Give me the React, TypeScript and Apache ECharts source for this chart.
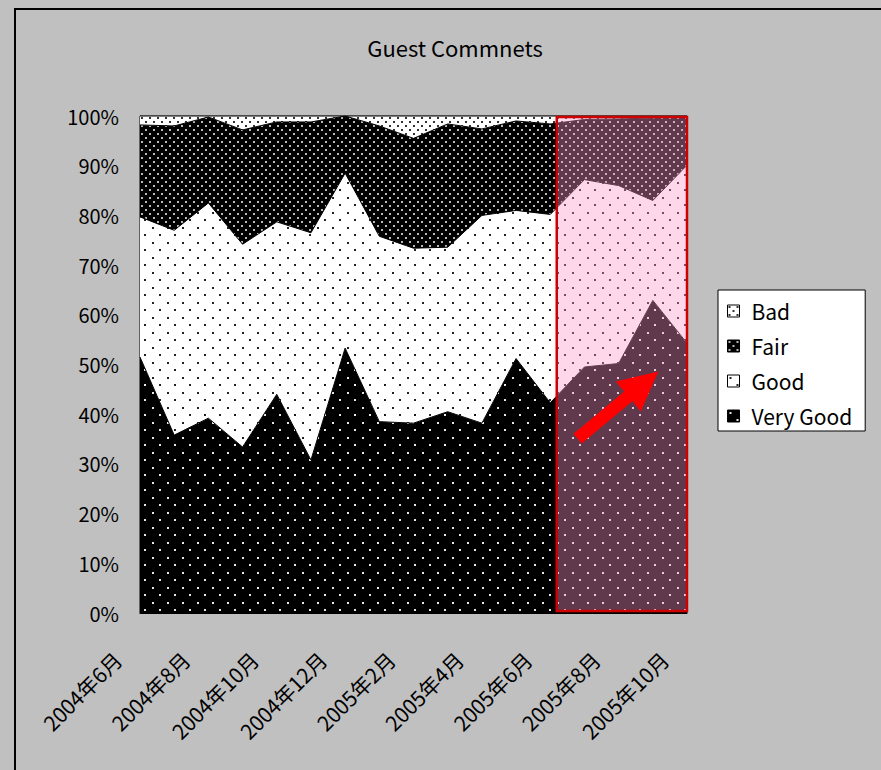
import React, { useEffect, useRef } from 'react';
import * as echarts from 'echarts';

const categories = [
  '2004年6月', '2004年7月', '2004年8月', '2004年9月', '2004年10月', '2004年11月',
  '2004年12月', '2005年1月', '2005年2月', '2005年3月', '2005年4月', '2005年5月',
  '2005年6月', '2005年7月', '2005年8月', '2005年9月', '2005年10月',
];
const veryGood = [51.5, 35.8, 39.2, 33.4, 44.0, 30.8, 53.3, 38.5, 38.2, 40.5, 38.2, 51.2, 42.3, 49.5, 50.2, 62.9, 54.3];
const good = [28.2, 41.2, 43.3, 40.8, 34.7, 45.7, 35.2, 37.3, 35.2, 33.1, 41.8, 29.8, 37.9, 37.7, 35.8, 20.1, 35.8];
const fair = [18.5, 21.0, 17.3, 23.0, 20.1, 22.3, 11.5, 22.2, 22.1, 24.8, 17.4, 18.0, 18.2, 12.1, 13.4, 16.6, 9.7];
const bad = [1.8, 2.0, 0.2, 2.8, 1.2, 1.2, 0.0, 2.0, 4.5, 1.6, 2.6, 1.0, 1.6, 0.7, 0.6, 0.4, 0.2];
const legendOrder = ['Bad', 'Fair', 'Good', 'Very Good'];

const FONT = "'Noto Sans CJK JP', 'Noto Sans', sans-serif";

function makePattern(bg: string, dot: string, size: number, dots: number[][], dotSize: number) {
  const c = document.createElement('canvas');
  c.width = size;
  c.height = size;
  const ctx = c.getContext('2d')!;
  ctx.fillStyle = bg;
  ctx.fillRect(0, 0, size, size);
  ctx.fillStyle = dot;
  dots.forEach(([x, y]) => ctx.fillRect(x, y, dotSize, dotSize));
  return { image: c, repeat: 'repeat', imageWidth: size, imageHeight: size } as any;
}

export default function App() {
  const ref = useRef<HTMLDivElement>(null);
  useEffect(() => {
    document.body.style.margin = '0';
    const chart = echarts.init(ref.current!, undefined, { renderer: 'svg' });
    const patVG = makePattern('#000', '#e8e8e8', 15, [[2, 2], [9, 9]], 2);
    const patGood = makePattern('#fff', '#222', 15, [[2, 2], [9, 9]], 2);
    const patFair = makePattern('#000', '#b8b8b8', 8, [[1, 1], [5, 5]], 2);
    const patBad = makePattern('#fff', '#333', 8, [[1, 1], [5, 5]], 2);
    const pats: Record<string, any> = { 'Very Good': patVG, Good: patGood, Fair: patFair, Bad: patBad };
    const seriesDefs: [string, number[]][] = [
      ['Very Good', veryGood],
      ['Good', good],
      ['Fair', fair],
      ['Bad', bad],
    ];
    chart.setOption({
      animation: false,
      backgroundColor: '#C0C0C0',
      grid: {
        left: 140, top: 116, width: 547, height: 497, show: true,
        backgroundColor: '#fff', borderColor: '#000', borderWidth: 1,
      },
      legend: {
        orient: 'vertical', left: 718, top: 290,
        backgroundColor: '#fff', borderColor: '#000', borderWidth: 1,
        padding: [10, 13, 4, 9], itemGap: 13, itemWidth: 12, itemHeight: 12,
        icon: 'rect',
        textStyle: { fontSize: 21, color: '#000', fontFamily: FONT, lineHeight: 22, padding: [0, 0, 0, 7] },
        data: legendOrder.map((n) => ({
          name: n,
          itemStyle: { color: pats[n], borderColor: '#000', borderWidth: 1 },
        })),
      },
      xAxis: {
        type: 'category', data: categories, boundaryGap: false,
        axisLine: { lineStyle: { color: '#000', width: 1 } },
        axisTick: { show: false },
        axisLabel: {
          interval: 1, rotate: 45, margin: 20, fontSize: 21, color: '#000', fontFamily: FONT,
          padding: [0, 32, 0, 0],
        },
        splitLine: { show: false },
      },
      yAxis: {
        type: 'value', min: 0, max: 100, interval: 10,
        axisLine: { show: true, lineStyle: { color: '#000', width: 1 } },
        axisTick: { show: true, inside: true, length: 6, lineStyle: { color: '#000' } },
        axisLabel: { formatter: '{value}%', fontSize: 20, margin: 21, color: '#000', fontFamily: FONT },
        splitLine: { show: false },
      },
      series: seriesDefs.map(([name, data]) => ({
        name, type: 'line', stack: 'total', data, symbol: 'none',
        lineStyle: { width: 1, color: '#000' },
        areaStyle: { color: pats[name], opacity: 1 },
        itemStyle: { color: name === 'Good' || name === 'Bad' ? '#fff' : '#000' },
      })),
    });

    const pt = (xi: number, v: number) => {
      const a = chart.convertToPixel({ gridIndex: 0 }, [Math.floor(xi), v]) as number[];
      const b = chart.convertToPixel({ gridIndex: 0 }, [Math.min(Math.floor(xi) + 1, categories.length - 1), v]) as number[];
      const f = xi - Math.floor(xi);
      return [a[0] + (b[0] - a[0]) * f, a[1]];
    };
    const tl = pt(12.19, 100);
    const br = pt(16, 0);
    const tail = pt(12.8, 35.1);
    const tip = pt(15.16, 48.6);
    const dx = tip[0] - tail[0];
    const dy = tip[1] - tail[1];
    const len = Math.sqrt(dx * dx + dy * dy);
    const ux = dx / len, uy = dy / len;
    const nx = -uy, ny = ux;
    const hw = 6.4, headLen = 39, headHw = 19.5;
    const base = [tip[0] - ux * headLen, tip[1] - uy * headLen];
    const arrow = [
      [tail[0] + nx * hw, tail[1] + ny * hw],
      [base[0] + nx * hw, base[1] + ny * hw],
      [base[0] + nx * headHw, base[1] + ny * headHw],
      [tip[0], tip[1]],
      [base[0] - nx * headHw, base[1] - ny * headHw],
      [base[0] - nx * hw, base[1] - ny * hw],
      [tail[0] - nx * hw, tail[1] - ny * hw],
    ];

    chart.setOption({
      graphic: [
        {
          type: 'rect', z: 100, silent: true,
          shape: { x: 15, y: 9, width: 900, height: 800 },
          style: { fill: 'none', stroke: '#000', lineWidth: 2 },
        },
        {
          type: 'text', z: 100, x: 455, y: 47,
          style: {
            text: 'Guest Commnets', fill: '#000', fontSize: 22, fontFamily: FONT,
            textAlign: 'center', verticalAlign: 'middle', textVerticalAlign: 'middle',
          },
        },
        {
          type: 'rect', z: 100, silent: true,
          shape: { x: tl[0], y: tl[1] + 1, width: br[0] - tl[0], height: br[1] - tl[1] - 3 },
          style: { fill: 'rgba(255,150,200,0.38)', stroke: '#D00000', lineWidth: 2.5 },
        },
        {
          type: 'polygon', z: 101, silent: true,
          shape: { points: arrow },
          style: { fill: '#FF0000' },
        },
      ],
    });
    return () => chart.dispose();
  }, []);
  return <div ref={ref} style={{ width: 881, height: 770 }} />;
}
